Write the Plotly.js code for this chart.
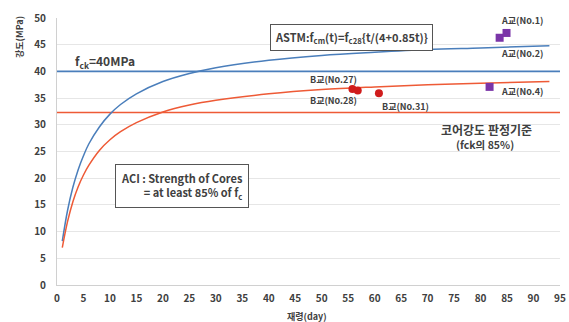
<!DOCTYPE html>
<html><head><meta charset="utf-8">
<script src="https://cdn.plot.ly/plotly-3.0.1.min.js"></script>
<style>html,body{margin:0;padding:0;background:#fff}#c{width:569px;height:322px}</style>
</head><body><div id="c"></div>
<script>
// values
const curveT = [1,2,3,4,5,6,8,10,12,15,20,25,30,40,50,60,70,80,93];
const astmCurve = [8.2,14.0,18.3,21.6,24.2,26.4,29.6,32.0,33.8,35.8,38.1,39.6,40.7,42.1,43.0,43.6,44.1,44.4,44.8];
const aciCurve = [7.0,11.9,15.6,18.4,20.6,22.4,25.2,27.2,28.7,30.4,32.4,33.7,34.6,35.8,36.6,37.1,37.5,37.8,38.1];
const lineT = [0,95];
const fckLine = [40,40];
const criterionLine = [32.3,32.3];
const bAge = [55.8,56.8,60.8];
const bStrength = [36.7,36.4,35.9];
const aAge = [83.6,84.9,81.7];
const aStrength = [46.3,47.2,37.1];
const xTicks = [0,5,10,15,20,25,30,35,40,45,50,55,60,65,70,75,80,85,90,95];
const yTicks = [0,5,10,15,20,25,30,35,40,45,50];

const F = "Noto Sans CJK KR";
const dark = "#404040";
const blue = "#4a7ebb", red = "#ee5a36";

const traces = [
  {x: lineT, y: fckLine, mode:'lines', line:{color:blue,width:1.6}},
  {x: lineT, y: criterionLine, mode:'lines', line:{color:red,width:1.6}},
  {x: curveT, y: astmCurve, mode:'lines', line:{color:blue,width:1.5,shape:'spline'}},
  {x: curveT, y: aciCurve, mode:'lines', line:{color:red,width:1.5,shape:'spline'}},
  {x: bAge, y: bStrength, mode:'markers', marker:{symbol:'circle',size:8,color:'#d01c1c'}},
  {x: aAge, y: aStrength, mode:'markers', marker:{symbol:'square',size:8,color:'#7a35a8'}}
];

function ann(x,y,text,size,extra){
  return Object.assign({x:x,y:y,xref:'x',yref:'y',text:text,showarrow:false,
    font:{family:F,size:size,color:dark,weight:'bold'}},extra||{});
}
const annotations = [
  ann(9.1,41.8,"f<sub>ck</sub>=40MPa",12),
  ann(55.7,46.4,"ASTM:f<sub>cm</sub>(t)=f<sub>c28</sub>{t/(4+0.85t)}",11,
      {bordercolor:'#555',borderwidth:1,borderpad:4,bgcolor:'#fff'}),
  ann(87.8,49.6,"A교(No.1)",9),
  ann(87.8,43.4,"A교(No.2)",9),
  ann(52.3,38.4,"B교(No.27)",9),
  ann(52.3,34.6,"B교(No.28)",9),
  ann(65.9,33.5,"B교(No.31)",9),
  ann(87.8,36.3,"A교(No.4)",9),
  ann(81.2,29.1,"코어강도 판정기준",12),
  ann(80.8,26.3,"(fck의 85%)",10.5),
  ann(23.6,18.5,"ACI : Strength of Cores<br>     = at least 85% of f<sub>c</sub>",11,
      {bordercolor:'#555',borderwidth:1,borderpad:5,bgcolor:'#fff',align:'right'}),
  {xref:'paper',yref:'paper',x:-0.0736,y:0.929,xanchor:'center',yanchor:'middle',text:"강도(MPa)",textangle:-90,showarrow:false,
    font:{family:F,size:9,color:dark,weight:'bold'}},
  {xref:'x',yref:'paper',x:47.2,y:-0.118,xanchor:'center',yanchor:'middle',text:"재령(day)",showarrow:false,
    font:{family:F,size:9,color:dark,weight:'bold'}}
];

const layout = {
  width:569,height:322,margin:{l:57,r:9,t:18,b:37},
  paper_bgcolor:'#fff',plot_bgcolor:'#fff',showlegend:false,
  font:{family:F,size:10,color:dark},
  xaxis:{range:[0,95],tickvals:xTicks,ticktext:xTicks.map(String),showgrid:false,zeroline:false,
    showline:true,linecolor:'#d0d0d0',linewidth:1,ticks:'',ticklabelstandoff:4,
    tickfont:{family:F,size:10,color:dark,weight:'bold'}},
  yaxis:{range:[0,50],tickvals:yTicks,ticktext:yTicks.map(String),showgrid:true,gridcolor:'#e6e6e6',
    zeroline:false,showline:true,linecolor:'#d0d0d0',linewidth:1,ticks:'',ticklabelstandoff:8,
    tickfont:{family:F,size:10,color:dark,weight:'bold'}},
  annotations:annotations
};
Plotly.newPlot('c',traces,layout,{staticPlot:true,displayModeBar:false});
</script></body></html>
